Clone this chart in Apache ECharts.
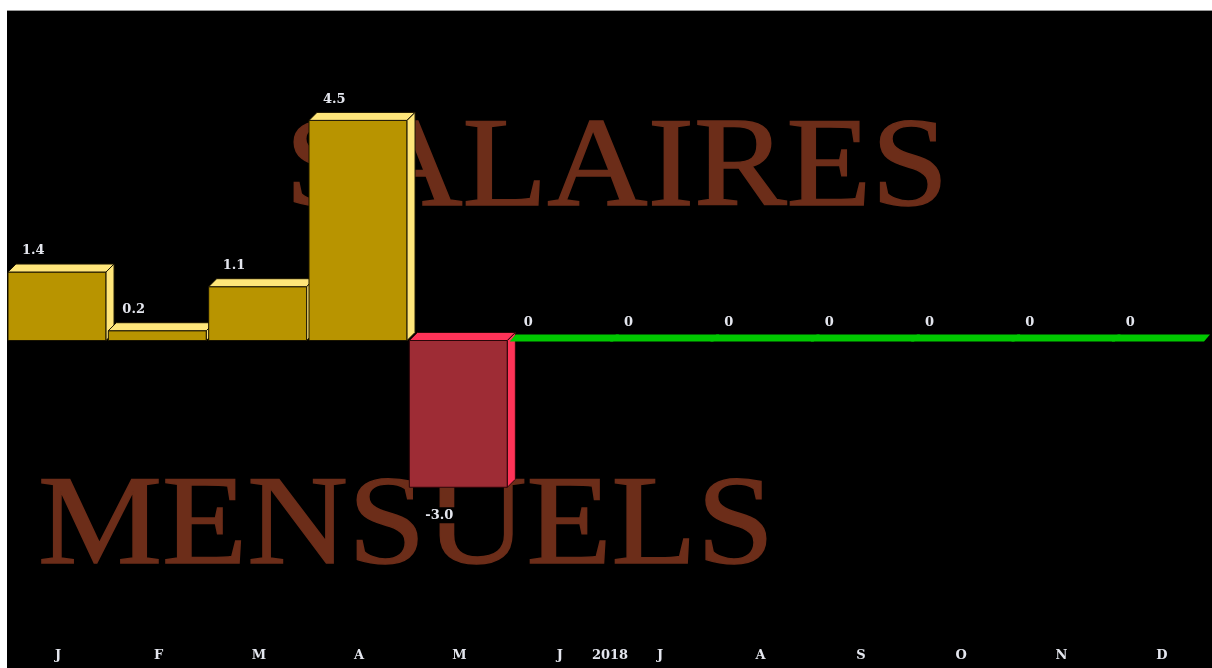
<!DOCTYPE html>
<html><head><meta charset="utf-8">
<script src="https://cdn.jsdelivr.net/npm/echarts@6/dist/echarts.min.js"></script>
<style>
html,body{margin:0;padding:0;background:#fff;width:1212px;height:668px;overflow:hidden}
#c{position:absolute;left:7px;top:10px;width:1205px;height:658px;background:#000;border-top:1px solid #999;box-sizing:border-box}
</style></head><body>
<div id="c"></div>
<script>
const months = ['J','F','M','A','M','J','J','A','S','O','N','D'];
const values = [1.4, 0.2, 1.1, 4.5, -3.0, 0, 0, 0, 0, 0, 0, 0];
const yearLabel = '2018';
const titleTop = 'SALAIRES';
const titleBottom = 'MENSUELS';

const chart = echarts.init(document.getElementById('c'));
const D = 8;
const labelColor = '#E4E6EE';
const labelFont = 'bold 13px "DejaVu Serif", serif';
const titleFont = '128px "Liberation Serif", "Times New Roman", serif';
const titleColor = '#6C2D19';

function fmt(v){ return v === 0 ? '0' : v.toFixed(1); }

function renderItem(params, api){
  const i = api.value(0), v = api.value(1);
  const p0 = api.coord([i, 0]);
  const pv = api.coord([i, v]);
  const bw = api.size([1, 0])[0];
  const x0 = p0[0] - bw / 2;
  const x1 = x0 + bw - 2.3;
  const children = [];
  if (v === 0) {
    const y = p0[1] + 1;
    const last = params.dataIndex === values.length - 1;
    const xr = last ? x0 + bw - 8 : x0 + bw + 3;
    children.push({type:'polygon', shape:{points:[[x0,y],[x0+6,y-7],[xr+6,y-7],[xr,y]]}, style:{fill:'#00C800'}});
    children.push({type:'text', z2:10, style:{text:fmt(v), x:x0+14, y:y-19, font:labelFont, fill:labelColor, verticalAlign:'middle'}});
  } else {
    const pos = v > 0;
    const yTop = Math.min(p0[1], pv[1]);
    const yBot = Math.max(p0[1], pv[1]);
    const front = pos ? '#B89400' : '#9E2C35';
    const light = pos ? '#FFE67A' : '#FF3358';
    const stroke = pos ? '#1a1400' : '#2a0508';
    children.push({type:'rect', shape:{x:x0, y:yTop, width:x1-x0, height:yBot-yTop}, style:{fill:front, stroke:stroke, lineWidth:1}});
    children.push({type:'polygon', shape:{points:[[x0,yTop],[x0+D,yTop-D],[x1+D,yTop-D],[x1,yTop]]}, style:{fill:light, stroke:stroke, lineWidth:1}});
    children.push({type:'polygon', shape:{points:[[x1,yTop],[x1+D,yTop-D],[x1+D,yBot-D],[x1,yBot]]}, style:{fill:light, stroke:stroke, lineWidth:1}});
    if (pos) {
      children.push({type:'text', z2:10, style:{text:fmt(v), x:x0+14, y:yTop-D-13, font:labelFont, fill:labelColor, verticalAlign:'middle'}});
    } else {
      children.push({type:'text', z2:10, style:{text:fmt(v), x:x0+14, y:yBot+28, font:labelFont, fill:labelColor, verticalAlign:'middle', backgroundColor:'#000', padding:[2,2,1,2]}});
    }
  }
  return {type:'group', children};
}

function titles(){
  return [
    {type:'text', z:-10, x:278, y:96, scaleX:1.085, style:{text:titleTop, font:titleFont, fill:titleColor, stroke:titleColor, lineWidth:1.5}},
    {type:'text', z:-10, x:31, y:454, scaleX:1.09, style:{text:titleBottom, font:titleFont, fill:titleColor, stroke:titleColor, lineWidth:1.5}}
  ];
}

const option = {
  backgroundColor:'#000',
  animation:false,
  grid:{left:1, right:0, top:36, bottom:34},
  xAxis:{type:'category', data:months, boundaryGap:true,
    axisLine:{show:false, onZero:false}, axisTick:{show:false},
    axisLabel:{color:labelColor, fontFamily:'"DejaVu Serif", serif', fontWeight:'bold', fontSize:13, margin:15}},
  yAxis:{type:'value', min:-6, max:6, show:false, splitLine:{show:false}},
  graphic:titles(),
  series:[{type:'custom', renderItem, data: values.map((v,i)=>[i,v]), encode:{x:0,y:1}, clip:false, z:5}]
};
chart.setOption(option);

const pA = chart.convertToPixel({xAxisIndex:0}, 5);
const pB = chart.convertToPixel({xAxisIndex:0}, 6);
const mid = (pA + pB) / 2;
const yLab = chart.convertToPixel({yAxisIndex:0}, -6) + 22;
chart.setOption({graphic: titles().concat([
  {type:'text', z:10, x:mid, y:yLab, style:{text:yearLabel, font:labelFont, fill:labelColor, align:'center', verticalAlign:'middle'}}
])});
</script>
</body></html>
